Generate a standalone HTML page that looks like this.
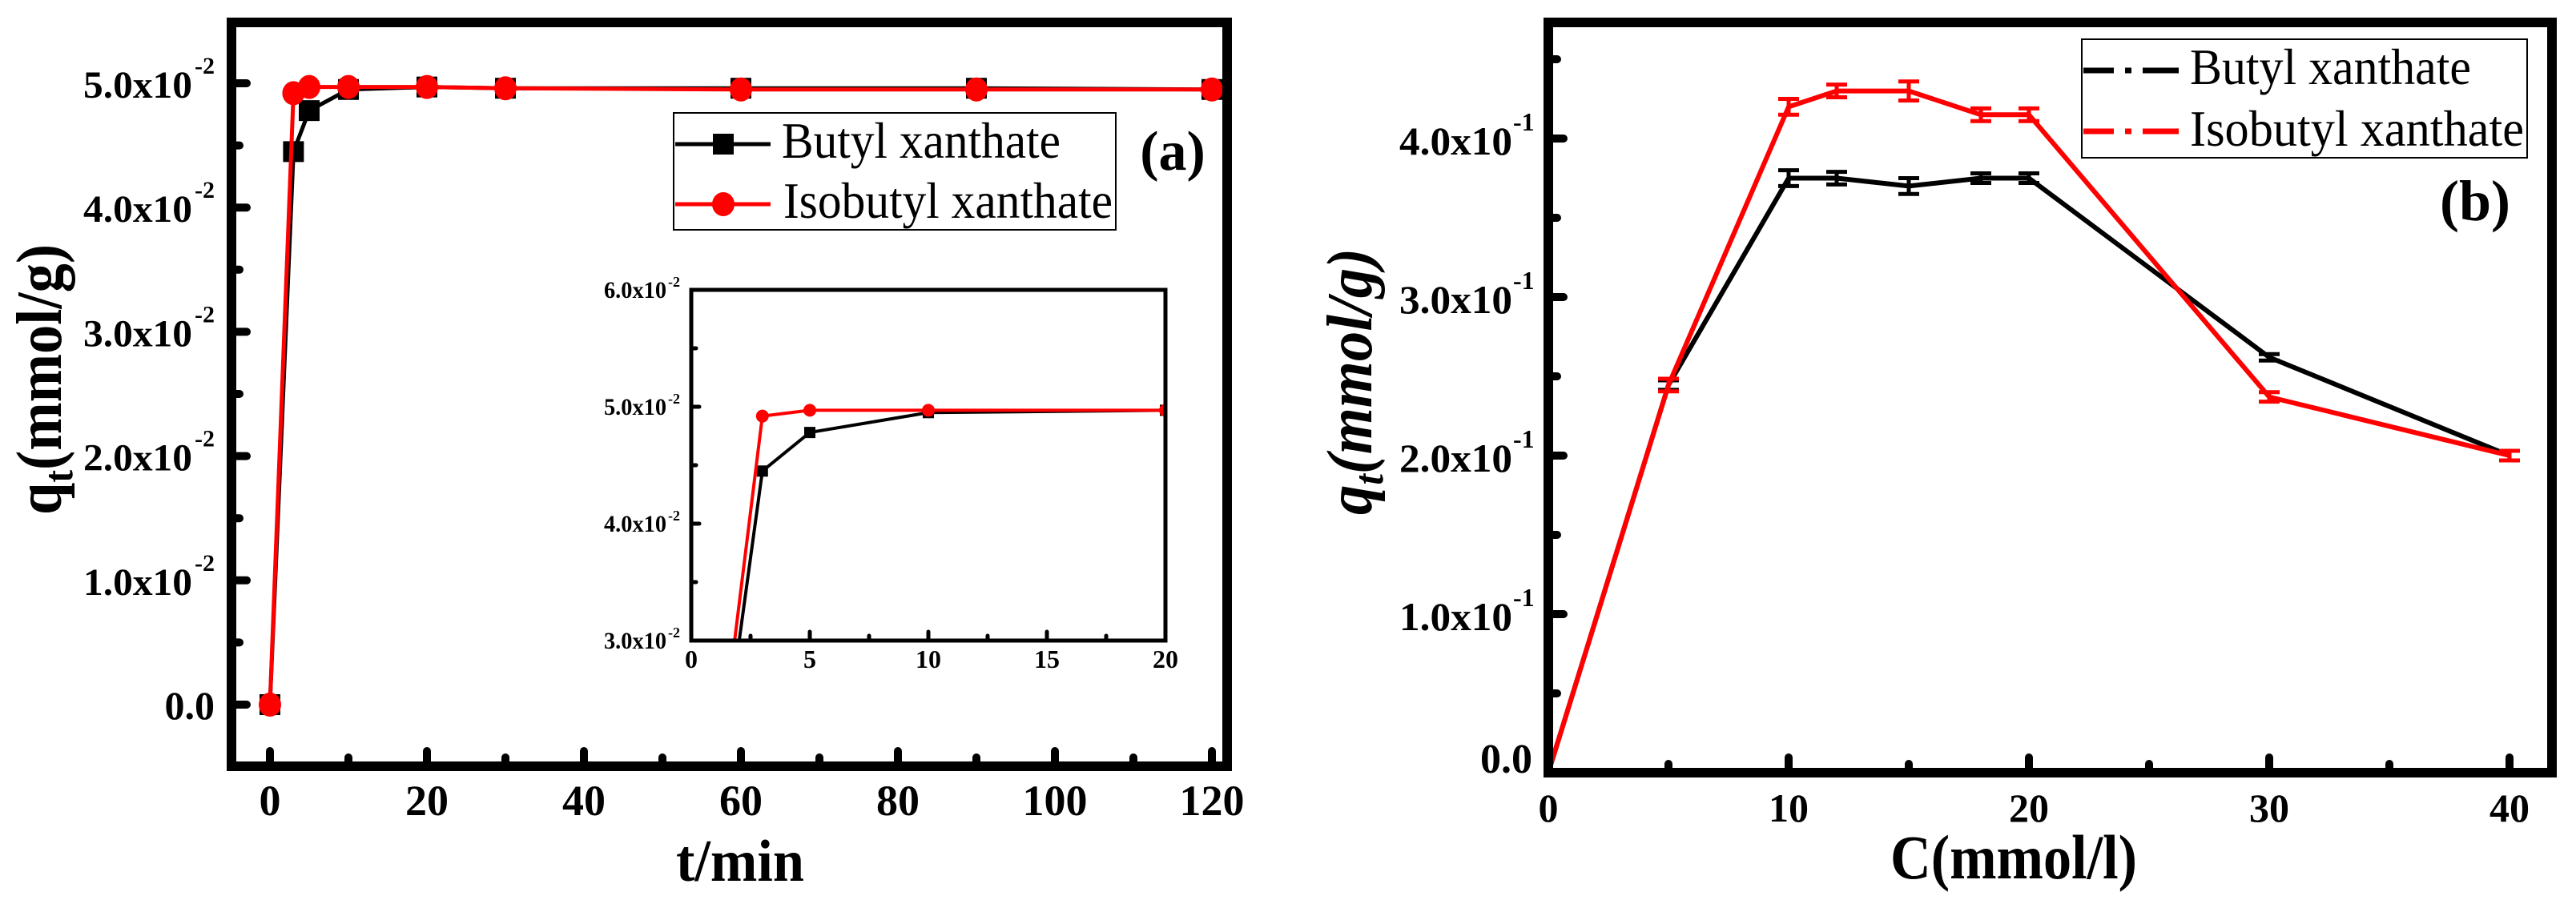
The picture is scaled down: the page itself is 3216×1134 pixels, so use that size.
<!DOCTYPE html>
<html><head><meta charset="utf-8"><style>
html,body{margin:0;padding:0;background:#fff;width:3216px;height:1134px;overflow:hidden;}
svg{display:block;}
text{font-family:"Liberation Serif",serif;}
</style></head><body>
<svg id="fig" xmlns="http://www.w3.org/2000/svg" width="3216" height="1134" viewBox="0 0 3216 1134">
<rect x="0" y="0" width="3216" height="1134" fill="#fff"/>
</svg>
<script>
// ---- Panel (a) data ----
const timeA = [0, 3, 5, 10, 20, 30, 60, 90, 120];
const butylA = [0, 0.0445, 0.0478, 0.0495, 0.0497, 0.0496, 0.0496, 0.0496, 0.0495];
const isobutylA = [0, 0.0492, 0.0497, 0.0497, 0.0497, 0.0496, 0.0495, 0.0495, 0.0495];
const xTicksA = [0, 20, 40, 60, 80, 100, 120];
const yTicksA = [0, 0.01, 0.02, 0.03, 0.04, 0.05];
const yTickLabelsA = ["0.0", "1.0x10", "2.0x10", "3.0x10", "4.0x10", "5.0x10"];
const xTicksInset = [0, 5, 10, 15, 20];
const yTicksInset = [0.03, 0.04, 0.05, 0.06];
const yTickLabelsInset = ["3.0x10", "4.0x10", "5.0x10", "6.0x10"];
// ---- Panel (b) data ----
const concB = [0, 5, 10, 12, 15, 18, 20, 30, 40];
const butylB = [0, 0.2445, 0.375, 0.375, 0.370, 0.375, 0.375, 0.262, 0.200];
const butylErrB = [0, 0.003, 0.005, 0.004, 0.005, 0.003, 0.003, 0.002, 0.003];
const isobutylB = [0, 0.2445, 0.420, 0.430, 0.430, 0.415, 0.415, 0.237, 0.200];
const isobutylErrB = [0, 0.004, 0.005, 0.004, 0.006, 0.004, 0.004, 0.003, 0.003];
const xTicksB = [0, 10, 20, 30, 40];
const yTicksB = [0, 0.1, 0.2, 0.3, 0.4];
const yTickLabelsB = ["0.0", "1.0x10", "2.0x10", "3.0x10", "4.0x10"];

const NS = "http://www.w3.org/2000/svg";
const svg = document.getElementById("fig");
function mk(tag, attrs, parent) {
  const e = document.createElementNS(NS, tag);
  for (const k in attrs) e.setAttribute(k, attrs[k]);
  (parent || svg).appendChild(e);
  return e;
}
function txt(s, attrs, parent) { const e = mk("text", attrs, parent); e.textContent = s; return e; }

// axis functions
const xA = v => 337 + v * 9.8;
const yA = v => 880 - v * 15520;
const xI = v => 863 + v * 29.6;
const yI = v => 800 - (v - 0.03) * 14600;
const xB = v => 1933 + v * 30;
const yB = v => 965 - v * 1980;

// ================= PANEL A =================
const gA = mk("g", {});



for (let v = 10; v <= 110; v += 20) {
  const t = mk("line", {x1: xA(v), x2: xA(v), y1: 957, y2: 946, stroke: "#000", "stroke-width": 10, "stroke-linecap": "round"}, gA);
  
  
}
for (let v = 0.005; v < 0.055; v += 0.01) {
  const t = mk("line", {x1: 289, x2: 299, y1: yA(v), y2: yA(v), stroke: "#000", "stroke-width": 10, "stroke-linecap": "round"}, gA);
  
  
}
xTicksA.forEach(v => {
  const t = mk("line", {x1: xA(v), x2: xA(v), y1: 957, y2: 938, stroke: "#000", "stroke-width": 10, "stroke-linecap": "round"}, gA);
  
  
  const l = txt(String(v), {x: xA(v), y: 1018, "text-anchor": "middle", "font-size": 54, "font-weight": "bold"}, gA);
  
  
});
yTicksA.forEach((v, i) => {
  const t = mk("line", {x1: 289, x2: 308, y1: yA(v), y2: yA(v), stroke: "#000", "stroke-width": 10, "stroke-linecap": "round"}, gA);
  
  
  if (i === 0) {
    const l = txt(yTickLabelsA[i], {x: 268, y: yA(v) + 18, "text-anchor": "end", "font-size": 50, "font-weight": "bold"}, gA);
    
    
  } else {
    const l = txt(yTickLabelsA[i], {x: 240, y: yA(v) + 18, "text-anchor": "end", "font-size": 48, "font-weight": "bold", textLength: 136, lengthAdjust: "spacingAndGlyphs"}, gA);
    
    
    const s = txt("-2", {x: 243, y: yA(v) - 12, "font-size": 30, "font-weight": "bold"}, gA);
    
    
  }
});

function polyA(xs, ys, fx, fy) { return xs.map((x, i) => fx(x) + "," + fy(ys[i])).join(" "); }

const lineBA = mk("polyline", {points: polyA(timeA, butylA, xA, yA), fill: "none", stroke: "#000", "stroke-width": 5}, gA);


timeA.forEach((t, i) => {
  const m = mk("rect", {x: xA(t) - 13, y: yA(butylA[i]) - 13, width: 26, height: 26, fill: "#000"}, gA);
  
  
});
const lineIA = mk("polyline", {points: polyA(timeA, isobutylA, xA, yA), fill: "none", stroke: "#f00", "stroke-width": 5}, gA);


timeA.forEach((t, i) => {
  const m = mk("ellipse", {cx: xA(t), cy: yA(isobutylA[i]), rx: 14, ry: 15, fill: "#f00"}, gA);
  
  
});

const frA = mk("rect", {x: 289, y: 28, width: 1243, height: 929, fill: "none", stroke: "#000", "stroke-width": 12}, gA);



const xtA = txt("t/min", {x: 924, y: 1100, "text-anchor": "middle", "font-size": 74, "font-weight": "bold", textLength: 160, lengthAdjust: "spacingAndGlyphs"}, gA);


const ytA = mk("text", {transform: "translate(76,643) rotate(-90)", "font-size": 80, "font-weight": "bold", textLength: 338, lengthAdjust: "spacingAndGlyphs"}, gA);
ytA.innerHTML = 'q<tspan font-size="52" dy="14">t</tspan><tspan dy="-14">(mmol/g)</tspan>';



const lgA = mk("g", {}, gA);


mk("rect", {x: 841, y: 141, width: 552, height: 146, fill: "#fff", stroke: "#000", "stroke-width": 2}, lgA);
mk("line", {x1: 843, x2: 962, y1: 180, y2: 180, stroke: "#000", "stroke-width": 5}, lgA);
mk("rect", {x: 890, y: 167, width: 26, height: 26, fill: "#000"}, lgA);
const le1 = txt("Butyl xanthate", {x: 976, y: 197, "font-size": 64, textLength: 348, lengthAdjust: "spacingAndGlyphs"}, lgA);


mk("line", {x1: 843, x2: 962, y1: 255, y2: 255, stroke: "#f00", "stroke-width": 5}, lgA);
mk("ellipse", {cx: 903, cy: 255, rx: 14, ry: 15, fill: "#f00"}, lgA);
const le2 = txt("Isobutyl xanthate", {x: 978, y: 272, "font-size": 64, textLength: 411, lengthAdjust: "spacingAndGlyphs"}, lgA);


const labA = txt("(a)", {x: 1464, y: 212, "text-anchor": "middle", "font-size": 70, "font-weight": "bold"}, gA);



// ---- inset ----
const gI = mk("g", {}, gA);


const defs = mk("defs", {});
const cp = mk("clipPath", {id: "clipI"}, defs);
mk("rect", {x: 863, y: 362, width: 592, height: 438}, cp);
for (let v = 2.5; v < 20; v += 5) {
  mk("line", {x1: xI(v), x2: xI(v), y1: 800, y2: 794, stroke: "#000", "stroke-width": 5, "stroke-linecap": "round"}, gI);
}
xTicksInset.forEach(v => {
  mk("line", {x1: xI(v), x2: xI(v), y1: 800, y2: 789, stroke: "#000", "stroke-width": 5, "stroke-linecap": "round"}, gI);
  const l = txt(String(v), {x: xI(v), y: 834, "text-anchor": "middle", "font-size": 32, "font-weight": "bold"}, gI);
  
  
});
for (let v = 0.035; v < 0.06; v += 0.01) {
  mk("line", {x1: 863, x2: 869, y1: yI(v), y2: yI(v), stroke: "#000", "stroke-width": 5, "stroke-linecap": "round"}, gI);
}
yTicksInset.forEach((v, i) => {
  mk("line", {x1: 863, x2: 873, y1: yI(v), y2: yI(v), stroke: "#000", "stroke-width": 5, "stroke-linecap": "round"}, gI);
  const l = txt(yTickLabelsInset[i], {x: 832, y: yI(v) + 10, "text-anchor": "end", "font-size": 30, "font-weight": "bold", textLength: 78, lengthAdjust: "spacingAndGlyphs"}, gI);
  
  
  txt("-2", {x: 834, y: yI(v) - 4, "font-size": 18, "font-weight": "bold"}, gI);
});
const gIc = mk("g", {"clip-path": "url(#clipI)"}, gI);
const lbI = mk("polyline", {points: polyA(timeA, butylA, xI, yI), fill: "none", stroke: "#000", "stroke-width": 4}, gIc);


timeA.forEach((t, i) => {
  const m = mk("rect", {x: xI(t) - 7, y: yI(butylA[i]) - 7, width: 14, height: 14, fill: "#000"}, gIc);
  
  
});
const liI = mk("polyline", {points: polyA(timeA, isobutylA, xI, yI), fill: "none", stroke: "#f00", "stroke-width": 4}, gIc);


timeA.forEach((t, i) => {
  const m = mk("circle", {cx: xI(t), cy: yI(isobutylA[i]), r: 8, fill: "#f00"}, gIc);
  
  
});
mk("rect", {x: 863, y: 362, width: 592, height: 438, fill: "none", stroke: "#000", "stroke-width": 5}, gI);

// ================= PANEL B =================
const gB = mk("g", {});


for (let v = 5; v <= 35; v += 10) {
  const t = mk("line", {x1: xB(v), x2: xB(v), y1: 965, y2: 954, stroke: "#000", "stroke-width": 10, "stroke-linecap": "round"}, gB);
  
  
}
for (let v = 0.05; v < 0.47; v += 0.1) {
  const t = mk("line", {x1: 1933, x2: 1944, y1: yB(v), y2: yB(v), stroke: "#000", "stroke-width": 10, "stroke-linecap": "round"}, gB);
  
  
}
xTicksB.forEach(v => {
  const t = mk("line", {x1: xB(v), x2: xB(v), y1: 965, y2: 946, stroke: "#000", "stroke-width": 10, "stroke-linecap": "round"}, gB);
  
  
  const l = txt(String(v), {x: xB(v), y: 1026, "text-anchor": "middle", "font-size": 50, "font-weight": "bold"}, gB);
  
  
});
yTicksB.forEach((v, i) => {
  const t = mk("line", {x1: 1933, x2: 1952, y1: yB(v), y2: yB(v), stroke: "#000", "stroke-width": 10, "stroke-linecap": "round"}, gB);
  
  
  if (i === 0) {
    const l = txt(yTickLabelsB[i], {x: 1913, y: 965, "text-anchor": "end", "font-size": 52, "font-weight": "bold"}, gB);
    
    
  } else {
    const l = txt(yTickLabelsB[i], {x: 1888, y: yB(v) + 20, "text-anchor": "end", "font-size": 50, "font-weight": "bold", textLength: 141, lengthAdjust: "spacingAndGlyphs"}, gB);
    
    
    const s = txt("-1", {x: 1889, y: yB(v) - 10, "font-size": 32, "font-weight": "bold"}, gB);
    
    
  }
});
function seriesB(ys, errs, color, name) {
  const pl = mk("polyline", {points: polyA(concB, ys, xB, yB), fill: "none", stroke: color, "stroke-width": 6, "stroke-linejoin": "round"}, gB);
  
  
  concB.forEach((c, i) => {
    if (c === 0) return;
    const x = xB(c), y1 = yB(ys[i] + errs[i]), y2 = yB(ys[i] - errs[i]);
    const g = mk("g", {stroke: color, "stroke-width": 5}, gB);
    
    
    mk("line", {x1: x, x2: x, y1: y1, y2: y2}, g);
    mk("line", {x1: x - 13, x2: x + 13, y1: y1, y2: y1}, g);
    mk("line", {x1: x - 13, x2: x + 13, y1: y2, y2: y2}, g);
  });
}
seriesB(butylB, butylErrB, "#000", "butyl");
seriesB(isobutylB, isobutylErrB, "#f00", "isobutyl");
const frB = mk("rect", {x: 1933, y: 28, width: 1253, height: 937, fill: "none", stroke: "#000", "stroke-width": 12}, gB);


const xtB = txt("C(mmol/l)", {x: 2514, y: 1097, "text-anchor": "middle", "font-size": 78, "font-weight": "bold", textLength: 308, lengthAdjust: "spacingAndGlyphs"}, gB);


const ytB = mk("text", {transform: "translate(1712,643) rotate(-90)", "font-size": 80, "font-weight": "bold", "font-style": "italic", textLength: 333, lengthAdjust: "spacingAndGlyphs"}, gB);
ytB.innerHTML = 'q<tspan font-size="52" dy="14">t</tspan><tspan dy="-14">(mmol/g)</tspan>';


const lgB = mk("g", {}, gB);


mk("rect", {x: 2599, y: 49, width: 556, height: 148, fill: "#fff", stroke: "#000", "stroke-width": 2}, lgB);
mk("line", {x1: 2601, x2: 2720, y1: 88, y2: 88, stroke: "#000", "stroke-width": 7, "stroke-dasharray": "38 14 8 14 45", "stroke-linecap": "butt"}, lgB);
const lb1 = txt("Butyl xanthate", {x: 2734, y: 105, "font-size": 64, textLength: 351, lengthAdjust: "spacingAndGlyphs"}, lgB);


mk("line", {x1: 2601, x2: 2720, y1: 164, y2: 164, stroke: "#f00", "stroke-width": 7, "stroke-dasharray": "38 14 8 14 45", "stroke-linecap": "butt"}, lgB);
const lb2 = txt("Isobutyl xanthate", {x: 2734, y: 182, "font-size": 64, textLength: 417, lengthAdjust: "spacingAndGlyphs"}, lgB);


const labB = txt("(b)", {x: 3090, y: 275, "text-anchor": "middle", "font-size": 72, "font-weight": "bold"}, gB);


</script>
</body></html>
